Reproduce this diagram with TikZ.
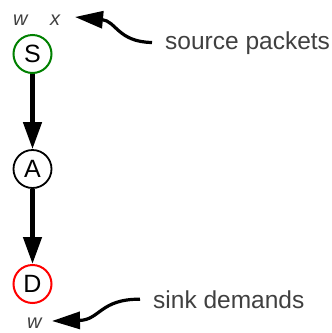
\documentclass[tikz,border=0pt]{standalone}
\usepackage{fontspec}
\setmainfont{Liberation Sans}
\usetikzlibrary{arrows.meta, positioning}
\usepackage{xcolor}
\definecolor{labelgray}{RGB}{64, 64, 64}
\definecolor{srcgreen}{RGB}{0, 128, 0}
\definecolor{sinkred}{RGB}{255, 0, 0}
\tikzset{
  vtx/.style        = {circle, draw=black, line width=1.8pt, minimum size=38pt, inner sep=0pt, font=\fontsize{25}{28}\selectfont},
  vtxsrc/.style     = {vtx, draw=srcgreen, line width=2pt},
  vtxsink/.style    = {vtx, draw=sinkred, line width=2pt},
  flowlbl/.style    = {inner sep=0pt, anchor=base west, text=labelgray, font=\fontsize{24.5}{28}\selectfont},
  varlbl/.style     = {inner sep=0pt, anchor=base west, text=labelgray, font=\fontsize{20}{24}\selectfont\itshape},
  edgearrow/.style  = {-{Triangle[length=27pt, width=18pt]}, line width=4.5pt, black},
  notearrow/.style  = {-{Triangle[length=28pt, width=17pt]}, line width=3.2pt, black, shorten <=13pt},
}

\begin{document}
\begin{tikzpicture}[x=1pt, y=-1pt]
\useasboundingbox (0,0) rectangle (332,333);

% ==================== vertices ====================
\node[vtxsrc]  (S) at (32.5, 54)  {S};
\node[vtx]     (A) at (32.5, 169) {A};
\node[vtxsink] (D) at (32.5, 284) {D};

% ==================== variable labels ====================
\node[varlbl] (wsrc)  at (13, 25)  {w};
\node[varlbl] (xsrc)  at (50, 25)  {x};
\node[varlbl] (wsink) at (27, 328) {w};

% ==================== notes ====================
\node[flowlbl] (srctext)  at (165, 49)  {source packets};
\node[flowlbl] (sinktext) at (153, 308) {sink demands};

\coordinate (srctip)  at (75, 17);
\coordinate (sinktip) at (52, 321);

% ==================== edges ====================
\draw[edgearrow] (S) -- (A);
\draw[edgearrow] (A) -- (D);

\draw[notearrow] (srctext.west) .. controls (118, 42) and (116, 21) .. (srctip);
\draw[notearrow] (sinktext.west) .. controls (100, 299) and (100, 320) .. (sinktip);

\end{tikzpicture}
\end{document}
